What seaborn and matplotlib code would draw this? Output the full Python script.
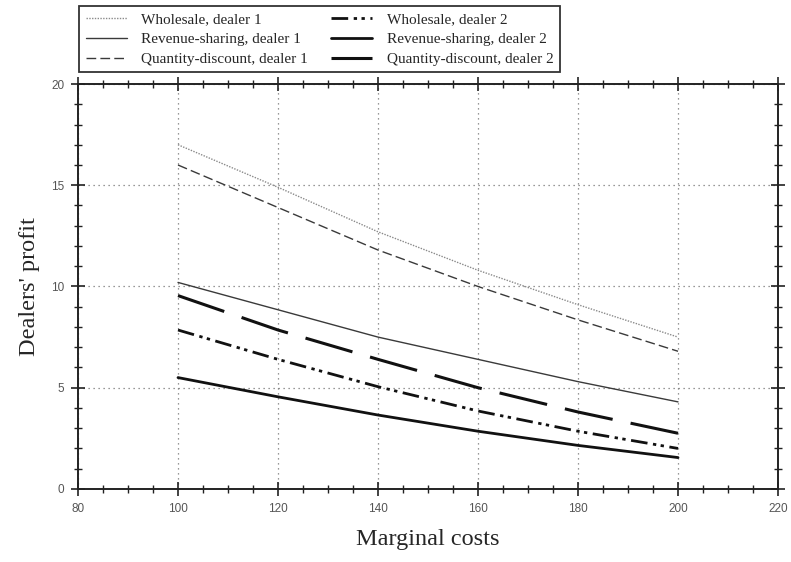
import matplotlib
matplotlib.use("Agg")
import matplotlib.pyplot as plt
from matplotlib.ticker import MultipleLocator
import seaborn as sns
import pandas as pd

# Marginal costs (x) and dealers' profit under each contract
costs = [100, 120, 140, 160, 180, 200]
wholesale_d1 = [17.0, 14.9, 12.7, 10.8, 9.1, 7.5]
revenue_d1 = [10.2, 8.85, 7.5, 6.4, 5.3, 4.3]
quantity_d1 = [16.0, 13.9, 11.8, 10.0, 8.35, 6.8]
wholesale_d2 = [7.85, 6.4, 5.05, 3.85, 2.85, 2.0]
revenue_d2 = [5.5, 4.55, 3.65, 2.85, 2.15, 1.55]
quantity_d2 = [9.55, 7.85, 6.4, 5.0, 3.8, 2.75]

series_names = [
    "Wholesale, dealer 1",
    "Revenue-sharing, dealer 1",
    "Quantity-discount, dealer 1",
    "Wholesale, dealer 2",
    "Revenue-sharing, dealer 2",
    "Quantity-discount, dealer 2",
]
series_values = [wholesale_d1, revenue_d1, quantity_d1,
                 wholesale_d2, revenue_d2, quantity_d2]

# line styles: (color, width, dash pattern or None for solid)
styles = [
    ("#8a8a8a", 1.0, (1.0, 1.0)),
    ("#3a3a3a", 1.0, None),
    ("#3a3a3a", 1.0, (7, 3)),
    ("#111111", 2.0, (6, 2, 1.2, 1.6, 1.2, 2)),
    ("#111111", 2.0, None),
    ("#111111", 2.2, (16, 6)),
]

df = pd.DataFrame(
    [(c, v, n) for n, vals in zip(series_names, series_values)
     for c, v in zip(costs, vals)],
    columns=["cost", "profit", "series"],
)

sns.set_style("white")
plt.rcParams["font.family"] = ["Liberation Serif", "DejaVu Serif"]

fig = plt.figure(figsize=(7.91, 5.62), dpi=100)
ax = fig.add_axes([0.0986, 0.130, 0.885, 0.7205])

handles = []
for name, (color, lw, dashes) in zip(series_names, styles):
    sub = df[df["series"] == name]
    sns.lineplot(data=sub, x="cost", y="profit", ax=ax, color=color,
                 linewidth=lw, label=name, legend=False)
    line = ax.lines[-1]
    if dashes is not None:
        line.set_dashes(dashes)
    line.set_dash_capstyle("butt")
    handles.append(line)

ax.set_xlim(80, 220)
ax.set_ylim(0, 20)
ax.xaxis.set_major_locator(MultipleLocator(20))
ax.xaxis.set_minor_locator(MultipleLocator(5))
ax.yaxis.set_major_locator(MultipleLocator(5))
ax.yaxis.set_minor_locator(MultipleLocator(1))
ax.grid(True, which="major", linestyle=(0, (1, 3)), color="#777777", linewidth=0.9)

ax.tick_params(which="both", direction="inout", top=True, right=True,
               bottom=True, left=True, color="#222222")
ax.tick_params(which="major", length=10, width=1.2, labelsize=8.5,
               labelcolor="#555555", pad=5)
ax.tick_params(which="minor", length=6, width=1.0)
for lbl in ax.get_xticklabels() + ax.get_yticklabels():
    lbl.set_family("Liberation Sans")
for sp in ax.spines.values():
    sp.set_color("#222222")
    sp.set_linewidth(1.4)

ax.set_xlabel("Marginal costs", fontsize=17.5, labelpad=10)
ax.set_ylabel("Dealers' profit", fontsize=17.5, labelpad=8)

fig.legend(handles, series_names, ncol=2, loc="upper left",
           bbox_to_anchor=(0.1, 0.989), borderaxespad=0, frameon=True,
           fancybox=False, edgecolor="#333333", fontsize=11,
           handlelength=2.7, handletextpad=0.95, columnspacing=1.5,
           labelspacing=0.4, borderpad=0.42, framealpha=1)
fig.legends[0].get_frame().set_linewidth(1.3)

fig.savefig("out.png", dpi=100)
